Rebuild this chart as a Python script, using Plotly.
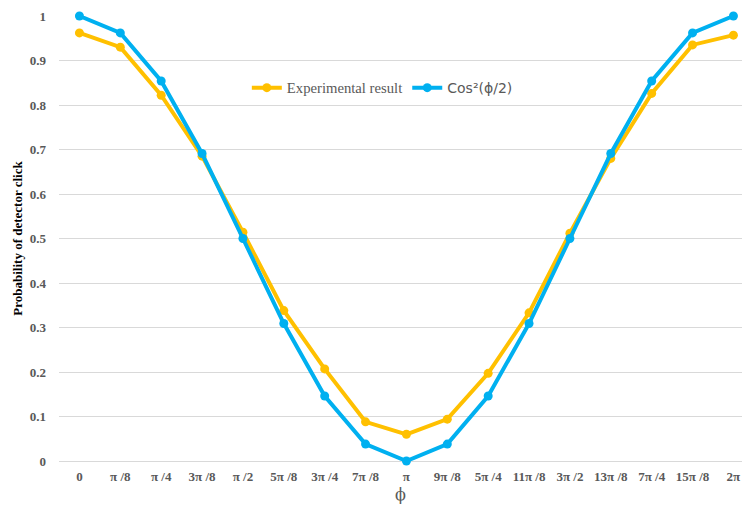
import plotly.graph_objects as go

phi_labels = ["0", "π /8", "π /4", "3π /8", "π /2", "5π /8", "3π /4", "7π /8", "π",
              "9π /8", "5π /4", "11π /8", "3π /2", "13π /8", "7π /4", "15π /8", "2π"]
experimental = [0.962, 0.930, 0.822, 0.685, 0.514, 0.338, 0.207, 0.088, 0.060,
                0.094, 0.197, 0.333, 0.512, 0.680, 0.826, 0.935, 0.957]
cos2_half = [1.000, 0.962, 0.854, 0.691, 0.500, 0.309, 0.146, 0.038, 0.000,
             0.038, 0.146, 0.309, 0.500, 0.691, 0.854, 0.962, 1.000]
y_ticks = [0, 0.1, 0.2, 0.3, 0.4, 0.5, 0.6, 0.7, 0.8, 0.9, 1]
y_tick_text = ["0", "0.1", "0.2", "0.3", "0.4", "0.5", "0.6", "0.7", "0.8", "0.9", "1"]

x = list(range(len(phi_labels)))

SERIF = '"Liberation Serif", "Times New Roman", serif'

fig = go.Figure()
fig.add_trace(go.Scatter(
    x=x, y=experimental, mode="lines+markers", name="Experimental result",
    line=dict(color="#FFC000", width=4), marker=dict(color="#FFC000", size=9),
    cliponaxis=False,
))
fig.add_trace(go.Scatter(
    x=x, y=cos2_half, mode="lines+markers",
    name='<span style="font-family:DejaVu Sans;font-size:14px">Cos²(ϕ/2)</span>',
    line=dict(color="#00B0F0", width=4), marker=dict(color="#00B0F0", size=9),
    cliponaxis=False,
))

fig.update_layout(
    width=742, height=510,
    margin=dict(l=59, r=0, t=16, b=49, autoexpand=False),
    paper_bgcolor="white", plot_bgcolor="white",
    font=dict(family=SERIF, color="#595959"),
    showlegend=True,
    legend=dict(
        orientation="h", x=0.275, y=0.838, xanchor="left", yanchor="middle",
        font=dict(size=14.7, color="#595959", family=SERIF),
        bgcolor="rgba(0,0,0,0)", itemwidth=30, tracegroupgap=0,
    ),
    xaxis=dict(
        tickmode="array", tickvals=x,
        ticktext=["<b>%s</b>" % t for t in phi_labels],
        range=[-0.5, 16.21], showgrid=False, zeroline=False,
        showline=False, ticks="", automargin=False, ticklabelstandoff=6,
        tickfont=dict(size=13, color="#595959", family=SERIF),
        title=dict(text="ϕ", font=dict(size=16, color="#595959", family="DejaVu Serif, serif"), standoff=5),
    ),
    yaxis=dict(
        tickmode="array", tickvals=y_ticks,
        ticktext=["<b>%s</b>" % t for t in y_tick_text],
        range=[0, 1], showgrid=True, gridcolor="#D9D9D9", gridwidth=1,
        zeroline=True, zerolinecolor="#D9D9D9", zerolinewidth=1,
        showline=False, ticks="", ticklabelstandoff=12, automargin=False,
        tickfont=dict(size=13, color="#595959", family=SERIF),
        title=dict(text="<b>Probability of detector click</b>",
                   font=dict(size=13, color="black", family=SERIF), standoff=4),
    ),
)

fig.write_html(
    "out.html",
    config={"displayModeBar": False},
    post_script="document.body.style.margin='0';document.body.style.overflow='hidden';",
)
